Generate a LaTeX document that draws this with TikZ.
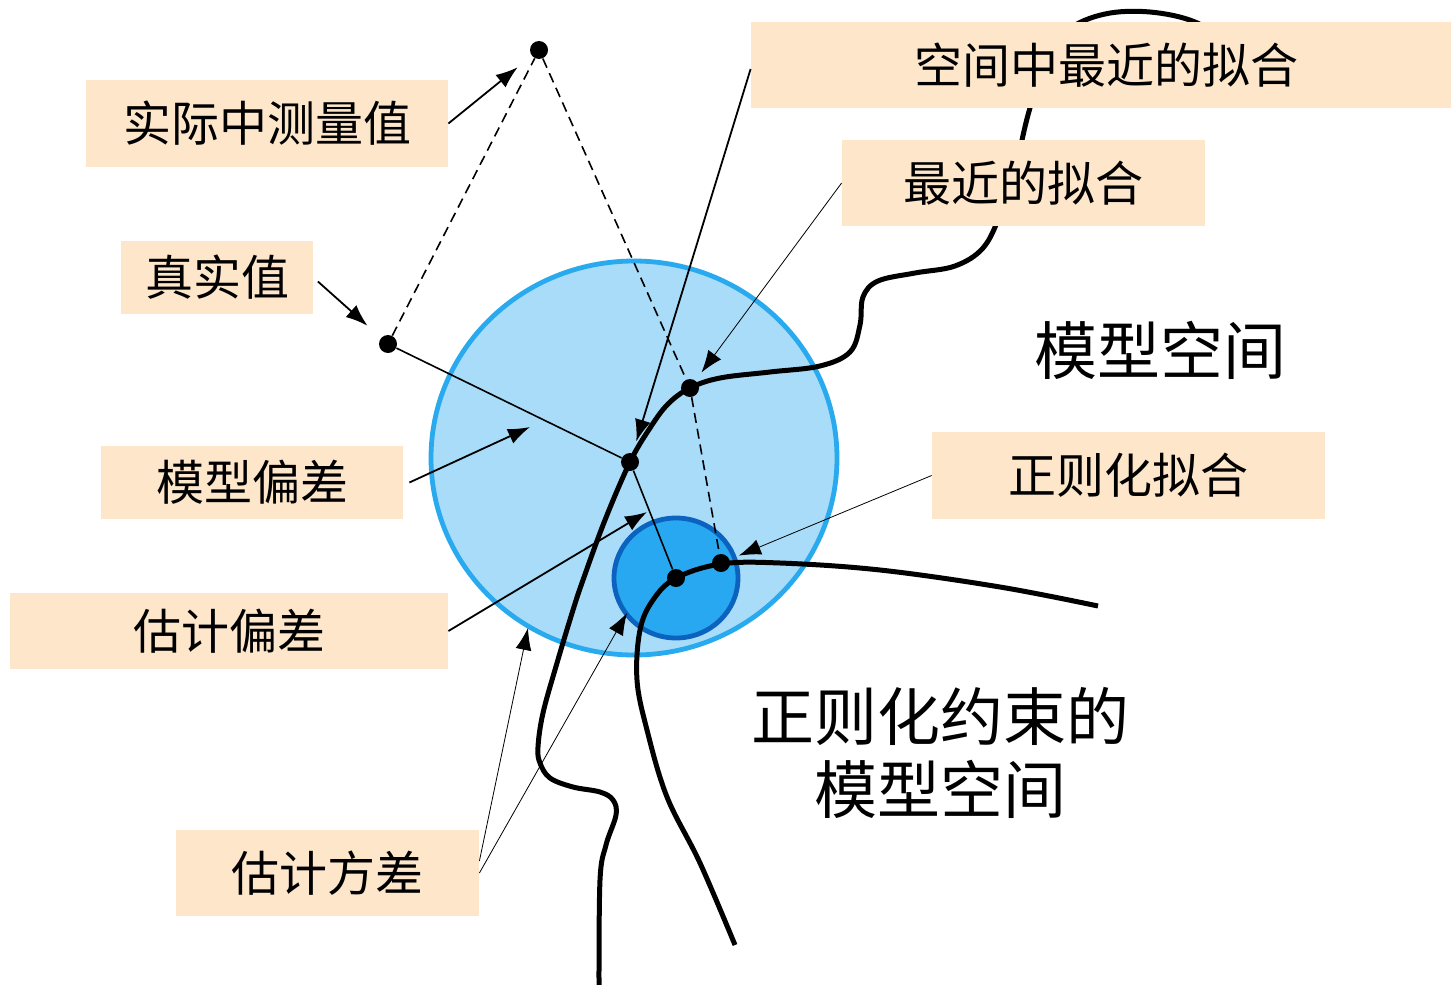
\documentclass[tikz,border=0pt]{standalone}
\usepackage{fontspec}
\setmainfont{Noto Sans CJK SC}
\usetikzlibrary{arrows.meta}
\definecolor{boxfill}{HTML}{FDE6CA}
\definecolor{ballfill}{HTML}{A9DCF8}
\definecolor{balledge}{HTML}{2AAAEE}
\definecolor{coreball}{HTML}{27A8F0}
\definecolor{coreedge}{HTML}{0B63BF}

\begin{document}
\begin{tikzpicture}[x=0.5pt, y=-0.5pt,
        >={Latex[length=11pt, width=8pt]},
        lbl/.style={fill=boxfill, inner sep=0pt, font=\fontsize{24}{28}\selectfont},
        big/.style={align=center, font=\fontsize{31.5}{36.5}\selectfont},
        dot/.style={circle, fill=black, inner sep=0pt, minimum size=9pt},
        space/.style={line width=2.5pt, line join=round},
        pointer/.style={->, line width=0.9pt},
        hint/.style={->, line width=0.4pt},
        link/.style={line width=0.8pt},
        guess/.style={line width=0.8pt, dash pattern=on 5pt off 3pt}
    ]
        \useasboundingbox (0,0) rectangle (1451,985);

        % 两个球
        \filldraw[fill=ballfill, draw=balledge, line width=2.4pt]
            (634,458) circle[x radius=101.5pt, y radius=98.5pt];
        \filldraw[fill=coreball, draw=coreedge, line width=2.4pt]
            (676,578) circle[x radius=31pt, y radius=30pt];

        % 模型空间
        \draw[space] plot[smooth, tension=0.6] coordinates {
            (599,985) (600,880) (606,845) (616,815) (613,800) (600,792)
            (573,787) (550,778) (540,763) (538,747) (543,713) (557,663)
            (573,610) (583,580) (605,520) (630,462) (650,428) (668,404)
            (690,388) (720,378) (770,372) (820,366) (850,352) (860,325)
            (863,297) (878,281) (915,273) (955,266) (983,248) (1000,215)
            (1015,170) (1028,115) (1045,62) (1068,30) (1105,14) (1150,12)
            (1195,22) (1230,45)};
        % 正则化约束的模型空间
        \draw[space] plot[smooth, tension=0.6] coordinates {
            (735,945) (700,863) (667,797) (647,730) (637,680) (640,630)
            (653,600) (676,578) (721,564) (780,563) (880,570) (1000,587)
            (1098,606)};

        % 点
        \node[dot] (meas) at (539,50) {};
        \node[dot] (truth) at (388,344) {};
        \node[dot] (popfit) at (630,462) {};
        \node[dot] (fit) at (690,388) {};
        \node[dot] (shrunk) at (676,578) {};
        \node[dot] (regfit) at (721,563) {};

        \draw[guess] (truth) -- (meas) -- (fit) -- (regfit);
        \draw[link] (truth) -- (popfit) -- (shrunk);

        % 标签
        \node[lbl, minimum width=181pt, minimum height=43.5pt] (measlbl) at (267,123.5) {实际中测量值};
        \node[lbl, minimum width=96pt, minimum height=36.5pt] (truthlbl) at (217,277.5) {真实值};
        \node[lbl, minimum width=151pt, minimum height=36.5pt] (mbiaslbl) at (252,482.5) {模型偏差};
        \node[lbl, minimum width=219pt, minimum height=38pt] (ebiaslbl) at (229,631) {估计偏差};
        \node[lbl, minimum width=151.5pt, minimum height=43pt] (varlbl) at (327.5,873) {估计方差};
        \node[lbl, minimum width=350pt, minimum height=43pt] (poplbl) at (1101,65) {\hspace{5pt}空间中最近的拟合};
        \node[lbl, minimum width=181.5pt, minimum height=43pt] (fitlbl) at (1023.5,183) {最近的拟合};
        \node[lbl, minimum width=196.5pt, minimum height=43.5pt] (reglbl) at (1128.5,475.5) {正则化拟合};

        \node[big] (msp) at (1160,350) {模型空间};
        \node[big] (rsp) at (940,753) {正则化约束的\\模型空间};

        % 箭头
        \coordinate (mb) at (530,427);
        \coordinate (eb) at (647,512);
        \coordinate (v1) at (528,628);
        \coordinate (v2) at (627,613);

        \draw[pointer, shorten >=9pt] (measlbl.east) -- (meas);
        \draw[pointer, shorten >=9pt, shorten <=3pt] (truthlbl.east) -- (truth);
        \draw[pointer] ([xshift=3pt]mbiaslbl.east) -- (mb);
        \draw[pointer] (ebiaslbl.east) -- (eb);
        \draw[hint] ([yshift=6pt]varlbl.east) -- (v1);
        \draw[hint] (varlbl.east) -- (v2);
        \draw[pointer, shorten >=6pt] ([yshift=-2pt]poplbl.west) -- (popfit);
        \draw[hint, shorten >=5pt] (fitlbl.west) -- (fit);
        \draw[hint, shorten >=5pt] (reglbl.west) -- (regfit);
    \end{tikzpicture}
\end{document}
